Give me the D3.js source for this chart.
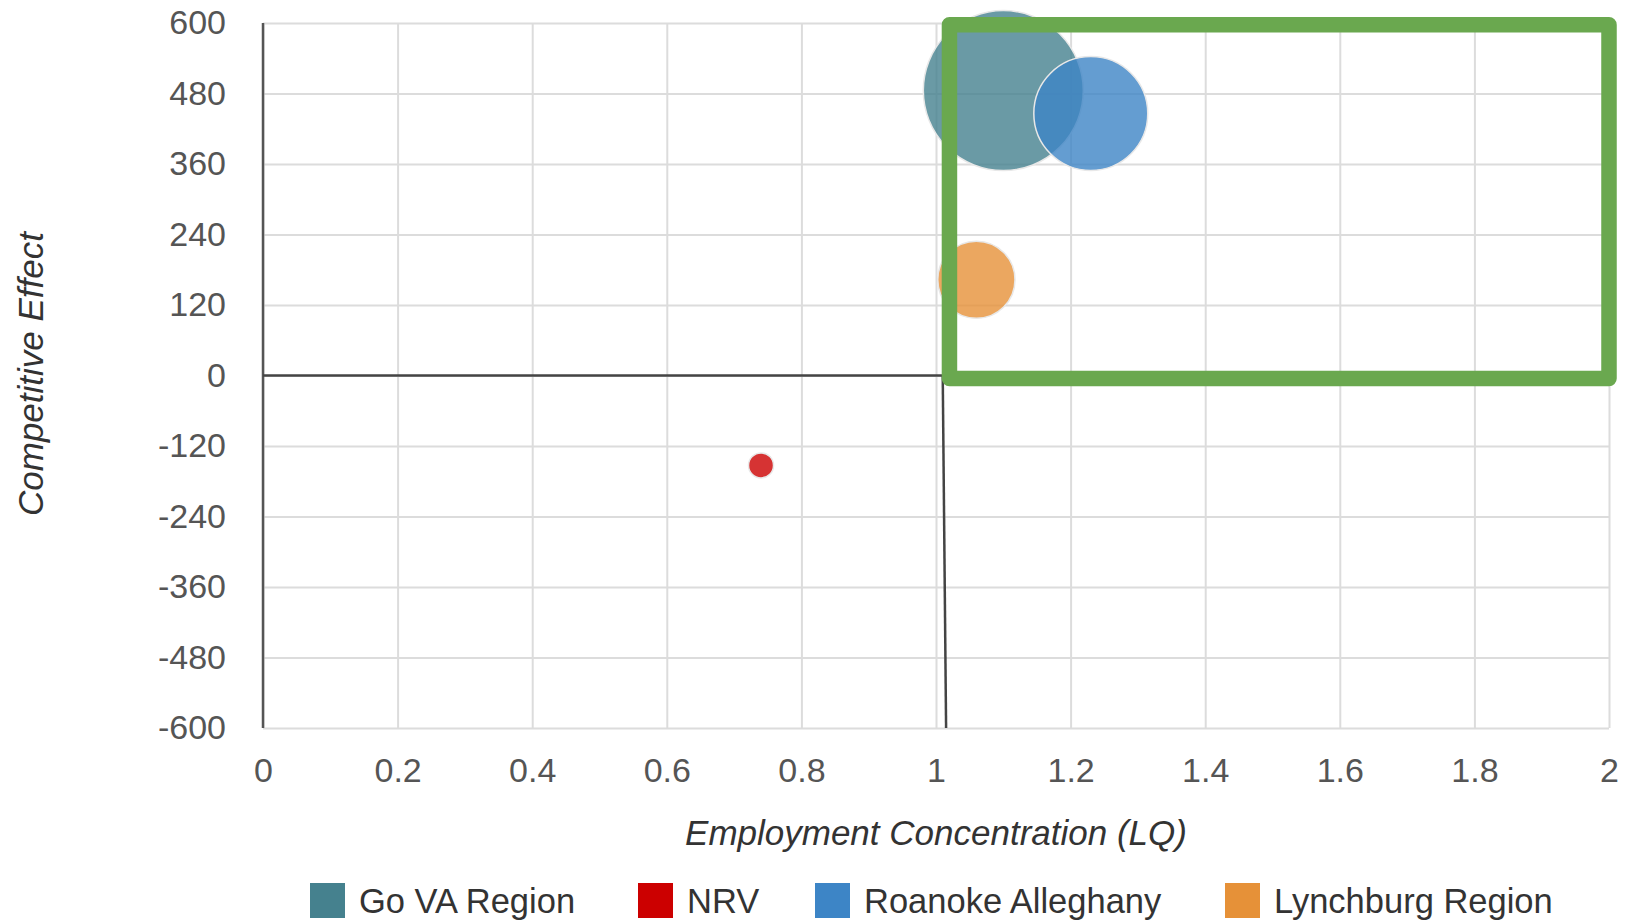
<!DOCTYPE html>
<html>
<head>
<meta charset="utf-8">
<script src="https://cdn.jsdelivr.net/npm/d3@7"></script>
<style>
  body { margin: 0; background: #fff; }
  text { font-family: "Liberation Sans", Arial, sans-serif; }
</style>
</head>
<body>
<svg id="chart" width="1637" height="923"></svg>
<script>
const regions = ["Go VA Region", "NRV", "Roanoke Alleghany", "Lynchburg Region"];
const colors = ["#45818e", "#cc0000", "#3d85c6", "#e69138"];
const lq = [1.1, 0.74, 1.23, 1.06];
const competitive = [485, -153, 446, 163];
const jobs = [4100, 100, 2080, 955];

const xTicks = [0, 0.2, 0.4, 0.6, 0.8, 1, 1.2, 1.4, 1.6, 1.8, 2];
const yTicks = [-600, -480, -360, -240, -120, 0, 120, 240, 360, 480, 600];

// hand-drawn divider lines and highlight box (data units)
const dividerX = [1.01, 1.015];
const highlight = [1.02, 2.0, -5, 597];

const margin = { top: 23, left: 263 };
const width = 1346;
const height = 705;

const svg = d3.select("#chart");
const g = svg.append("g").attr("transform", `translate(${margin.left},${margin.top})`);

const x = d3.scaleLinear().domain([0, 2]).range([0, width]);
const y = d3.scaleLinear().domain([-600, 600]).range([height, 0]);
const r = d3.scaleSqrt().domain([0, d3.max(jobs)]).range([0, 80]);

// grid
g.append("g")
  .attr("class", "grid")
  .call(d3.axisBottom(x).tickValues(xTicks).tickSize(height).tickFormat(""))
  .call((s) => s.select(".domain").remove())
  .selectAll("line")
  .attr("stroke", "#dcdcdc")
  .attr("stroke-width", 2);

g.append("g")
  .attr("class", "grid")
  .call(d3.axisLeft(y).tickValues(yTicks).tickSize(-width).tickFormat(""))
  .call((s) => s.select(".domain").remove())
  .selectAll("line")
  .attr("stroke", "#dcdcdc")
  .attr("stroke-width", 2);

// tick labels
const xAxis = g.append("g")
  .attr("transform", `translate(0,${height})`)
  .call(d3.axisBottom(x).tickValues(xTicks).tickSize(0).tickPadding(30).tickFormat((d) => String(d)));
xAxis.select(".domain").remove();
xAxis.selectAll("text")
  .attr("font-size", 34)
  .attr("fill", "#555")
  .attr("font-family", "Liberation Sans, Arial, sans-serif");

const yAxis = g.append("g")
  .call(d3.axisLeft(y).tickValues(yTicks).tickSize(0).tickPadding(37).tickFormat((d) => String(d)));
yAxis.select(".domain").remove();
yAxis.selectAll("text")
  .attr("font-size", 34)
  .attr("fill", "#555")
  .attr("font-family", "Liberation Sans, Arial, sans-serif");

// axis lines
g.append("line")
  .attr("x1", x(0)).attr("x2", x(0))
  .attr("y1", y(600)).attr("y2", y(-600))
  .attr("stroke", "#555").attr("stroke-width", 2.5);

g.append("line")
  .attr("x1", x(0)).attr("x2", x(dividerX[0]))
  .attr("y1", y(0)).attr("y2", y(0))
  .attr("stroke", "#444").attr("stroke-width", 2.5);

g.append("line")
  .attr("x1", x(dividerX[0])).attr("x2", x(dividerX[1]))
  .attr("y1", y(0)).attr("y2", y(-600))
  .attr("stroke", "#444").attr("stroke-width", 2.5);

// bubbles
const bubbles = regions.map((name, i) => ({
  name, color: colors[i], x: lq[i], y: competitive[i], size: jobs[i]
}));

g.selectAll("circle.bubble")
  .data(bubbles)
  .enter()
  .append("circle")
  .attr("class", "bubble")
  .attr("cx", (d) => x(d.x))
  .attr("cy", (d) => y(d.y))
  .attr("r", (d) => r(d.size))
  .attr("fill", (d) => d.color)
  .attr("fill-opacity", 0.8)
  .attr("stroke", "#e8e8e8")
  .attr("stroke-width", 1.5);

// highlight box
g.append("rect")
  .attr("x", x(highlight[0]))
  .attr("y", y(highlight[3]))
  .attr("width", x(highlight[1]) - x(highlight[0]))
  .attr("height", y(highlight[2]) - y(highlight[3]))
  .attr("fill", "none")
  .attr("stroke", "#6aa84f")
  .attr("stroke-width", 15.5)
  .attr("stroke-linejoin", "round");

// axis titles
svg.append("text")
  .attr("x", margin.left + x(1))
  .attr("y", 845)
  .attr("text-anchor", "middle")
  .attr("font-size", 35)
  .attr("font-style", "italic")
  .attr("fill", "#333")
  .text("Employment Concentration (LQ)");

svg.append("text")
  .attr("transform", `translate(43,374) rotate(-90)`)
  .attr("text-anchor", "middle")
  .attr("font-size", 35)
  .attr("font-style", "italic")
  .attr("fill", "#333")
  .text("Competitive Effect");

// legend
const legendX = [310, 638, 815, 1225];
const legend = svg.append("g");
const items = legend.selectAll("g")
  .data(bubbles)
  .enter()
  .append("g")
  .attr("transform", (d, i) => `translate(${legendX[i]},883)`);

items.append("rect")
  .attr("width", 35)
  .attr("height", 35)
  .attr("fill", (d) => d.color);

items.append("text")
  .attr("x", 49)
  .attr("y", 30)
  .attr("font-size", 34.5)
  .attr("fill", "#333")
  .text((d) => d.name);
</script>
</body>
</html>
